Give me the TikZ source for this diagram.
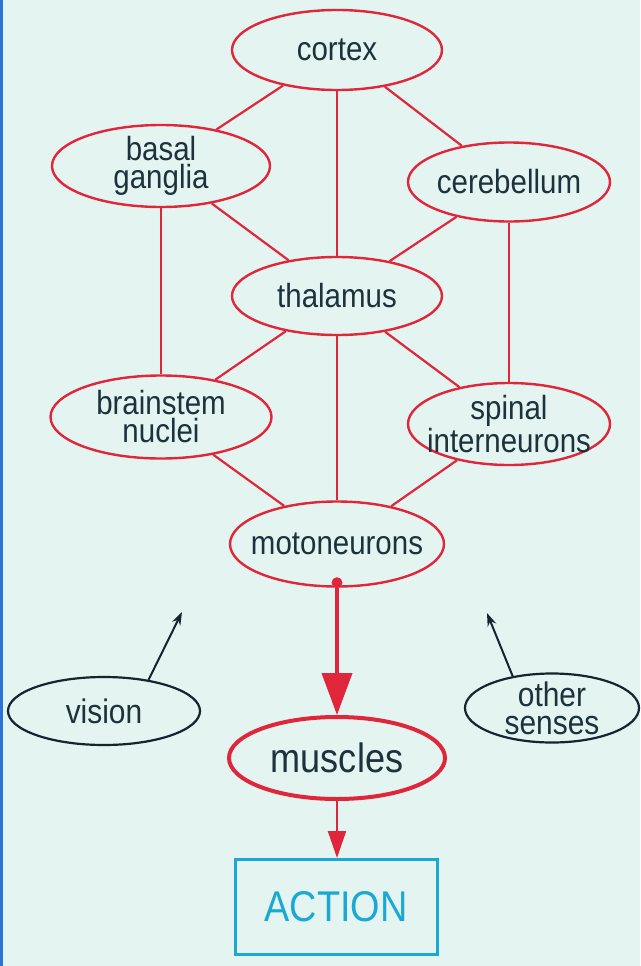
\documentclass[tikz,border=0pt]{standalone}
\usepackage{fontspec}
\setmainfont{Liberation Sans}[FakeStretch=0.88]
\usetikzlibrary{arrows.meta,shapes.geometric}
\definecolor{slidebg}{RGB}{228,244,240}
\definecolor{slideedge}{RGB}{45,115,215}
\definecolor{nervered}{RGB}{224,38,58}
\definecolor{inktext}{RGB}{28,50,60}
\definecolor{senseink}{RGB}{22,36,48}
\definecolor{actcyan}{RGB}{28,168,212}

\begin{document}
\begin{tikzpicture}[x=1pt,y=1pt,>=Stealth,
  area/.style={ellipse,draw=nervered,line width=2.4pt,inner sep=-16pt,align=center,
    text=inktext,font=\fontsize{33.5}{28}\selectfont},
  sense/.style={ellipse,draw=senseink,line width=2.2pt,inner sep=-16pt,align=center,
    text=inktext,font=\fontsize{34}{28}\selectfont},
  link/.style={nervered,line width=2.2pt}]
  % background
  \fill[slidebg] (0,0) rectangle (640,-966);
  \fill[slideedge] (0,0) rectangle (3,-966);
  \useasboundingbox (0,0) rectangle (640,-966);
  % brain areas
  \node[area,minimum width=210pt,minimum height=80pt] (cortex) at (337,-50) {cortex};
  \node[area,minimum width=218pt,minimum height=82pt] (basal) at (161,-166) {basal\\ganglia};
  \node[area,minimum width=202pt,minimum height=79pt] (cereb) at (509,-182) {cerebellum};
  \node[area,minimum width=210pt,minimum height=78pt] (thal) at (337,-296) {thalamus};
  \node[area,minimum width=221pt,minimum height=83pt] (brain) at (161,-417) {brainstem\\nuclei};
  \node[area,minimum width=202pt,minimum height=82pt] (spinal) at (509,-424) {spinal\\interneurons};
  \node[area,minimum width=214pt,minimum height=85pt] (moto) at (337,-544) {motoneurons};
  % output side
  \node[area,line width=4pt,minimum width=216pt,minimum height=82pt,
    font=\fontsize{41}{44}\selectfont] (muscles) at (337,-758) {muscles};
  \node[draw=actcyan,line width=3pt,minimum width=202pt,minimum height=95pt,inner sep=0pt,
    text=actcyan,font=\fontsize{43}{46}\selectfont] (action) at (336,-907) {ACTION};
  % senses
  \node[sense,minimum width=192pt,minimum height=68pt] (vision) at (104,-711) {vision};
  \node[sense,minimum width=174pt,minimum height=69pt] (senses) at (552,-708) {other\\senses};
  \coordinate (vistip) at (182,-612);
  \coordinate (othtip) at (487,-613);
  % connections
  \draw[link] (cortex) -- (basal);
  \draw[link] (cortex) -- (cereb);
  \draw[link] (basal) -- (thal);
  \draw[link] (cereb) -- (thal);
  \draw[link] (thal) -- (brain);
  \draw[link] (thal) -- (spinal);
  \draw[link] (brain) -- (moto);
  \draw[link] (spinal) -- (moto);
  \draw[link,line width=1.6pt] (cortex) -- (thal);
  \draw[link,line width=1.6pt] (thal) -- (moto);
  \draw[link,line width=1.6pt] (basal) -- (brain);
  \draw[link,line width=1.6pt] (cereb) -- (spinal);
  % motor output
  \fill[nervered] ([yshift=5pt]moto.south) circle (5.5pt);
  \draw[nervered,line width=4pt,-{Triangle[length=42pt,width=30pt]}] (moto.south) -- (muscles.north);
  \draw[nervered,line width=2.2pt,-{Triangle[length=27pt,width=18pt]}] (muscles.south) -- (muscles.south |- action.north);
  % sensory input
  \draw[senseink,line width=2pt,-{Stealth[length=13pt,width=9pt]}] (vision.35) -- (vistip);
  \draw[senseink,line width=2pt,-{Stealth[length=13pt,width=9pt]}] (senses.141) -- (othtip);
\end{tikzpicture}
\end{document}
